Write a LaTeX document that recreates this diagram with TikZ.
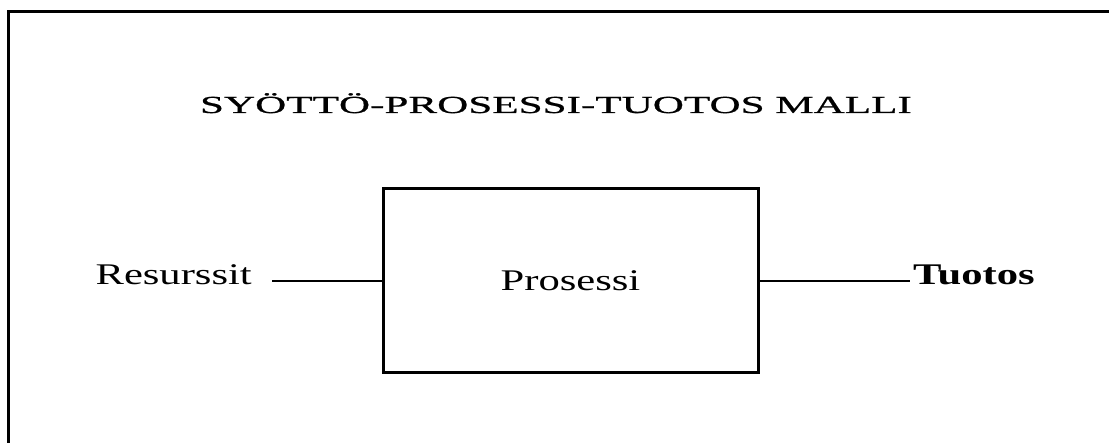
\documentclass[tikz,border=0pt]{standalone}
\usepackage{fontspec}
\setmainfont{Liberation Serif}
\newfontfamily\leveafont[FakeStretch=1.42]{Liberation Serif}
\newfontfamily\otsikkofont[FakeStretch=1.76, FakeBold=0.8]{Liberation Serif}

\begin{document}
\begin{tikzpicture}[
    x=1pt, y=-1pt,
    teksti/.style={inner sep=0pt, font=\leveafont\fontsize{30}{36}\selectfont},
    laatikko/.style={draw, line width=3pt, minimum width=375pt, minimum height=184pt,
                     inner sep=0pt, font=\leveafont\fontsize{30}{36}\selectfont},
    yhteys/.style={line width=2pt, black},
]

\useasboundingbox (0,0) rectangle (1109,443);

% ===== Outer frame (cut off at right and bottom) =====
\begin{scope}
\clip (0,0) rectangle (1109,443);
\draw[line width=3pt] (8,12) rectangle (1130,470);
\end{scope}

% ===== Title =====
\node[inner sep=0pt, anchor=base, font=\otsikkofont\fontsize{24.5}{28}\selectfont]
    (otsikko) at (556,113) {SYÖTTÖ-PROSESSI-TUOTOS MALLI};

% ===== Process box and its two ends =====
\node[laatikko] (prosessi) at (570.5,281) {\raisebox{-3pt}{Prosessi}};
\node[teksti, inner xsep=20pt, anchor=base east] (resurssit) at (272,285) {Resurssit};
\node[teksti, inner xsep=3pt, anchor=base west, font=\leveafont\bfseries\fontsize{30}{36}\selectfont]
    (tuotos) at (910,285) {Tuotos};

% ===== Connectors =====
\draw[yhteys] (resurssit.east |- prosessi.west) -- (prosessi.west);
\draw[yhteys] (prosessi.east) -- (tuotos.west |- prosessi.east);

\end{tikzpicture}
\end{document}
